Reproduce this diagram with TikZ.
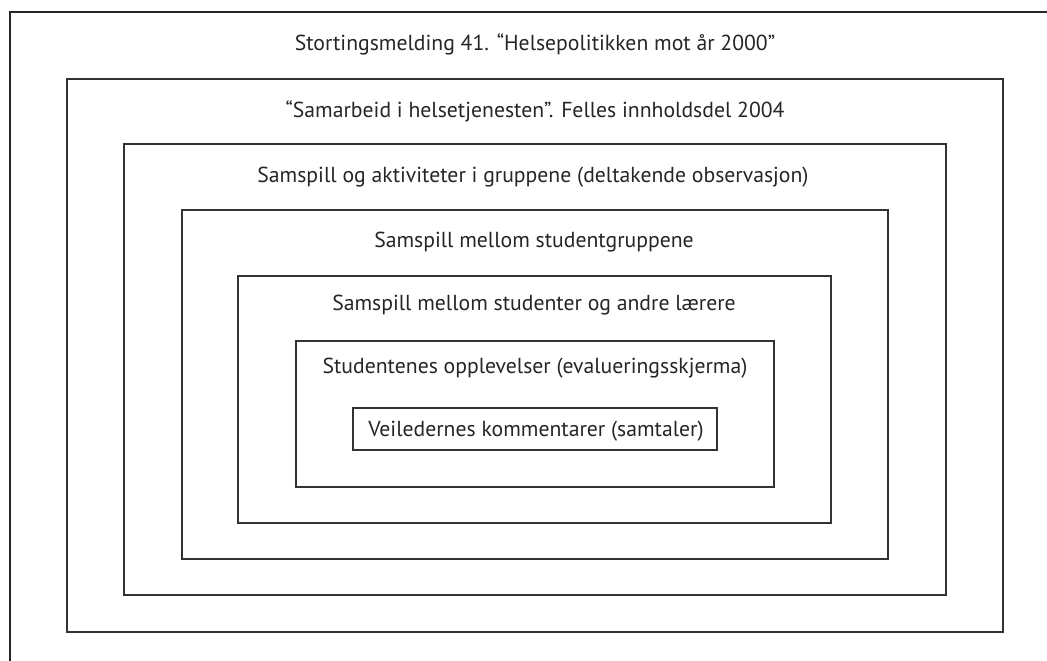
\documentclass[tikz,border=0pt]{standalone}
\usepackage{fontspec}
\setmainfont{PT Sans}
\begin{document}
\begin{tikzpicture}[x=1pt,y=-1pt,
  frame/.style={draw=black!80,line width=1.6pt},
  lab/.style={font=\fontsize{21.7}{24}\selectfont,text=black!85,inner sep=0pt,anchor=center}]
\useasboundingbox[fill=white] (0,0) rectangle (1047,661);
% outer (cropped) frame
\draw[black!85,line width=1.6pt] (10,661) -- (10,12) -- (1047,12);
% nested boxes
\draw[frame] (67,79) rectangle (1003,632);
\draw[frame] (124,144) rectangle (946,595);
\draw[frame] (182,210) rectangle (888,559);
\draw[frame] (238,276) rectangle (831,523);
\draw[frame] (296,341) rectangle (774,487);
\draw[frame] (353,408) rectangle (717,450);
% labels
\node[lab] (t0) at (535,44) {Stortingsmelding 41. “Helsepolitikken mot år 2000”};
\node[lab] (t1) at (535,111) {“Samarbeid i helsetjenesten”. Felles innholdsdel 2004};
\node[lab] (t2) at (533,177) {Samspill og aktiviteter i gruppene (deltakende observasjon)};
\node[lab] (t3) at (534,242) {Samspill mellom studentgruppene};
\node[lab] (t4) at (534,305) {Samspill mellom studenter og andre lærere};
\node[lab] (t5) at (535,368) {Studentenes opplevelser (evalueringsskjerma)};
\node[lab] (t6) at (536,431) {Veiledernes kommentarer (samtaler)};
\end{tikzpicture}
\end{document}
